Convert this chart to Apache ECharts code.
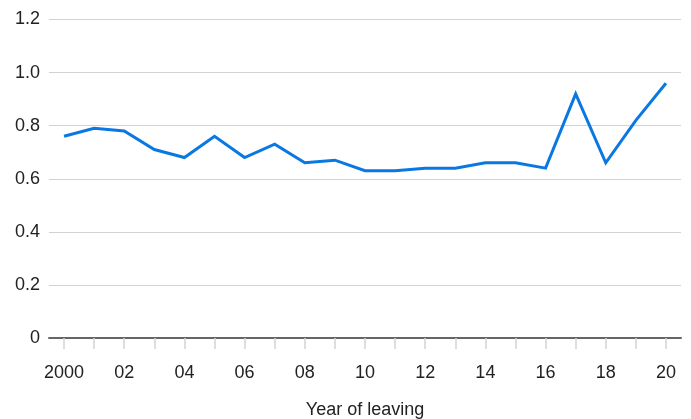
<!DOCTYPE html>
<html>
<head>
<meta charset="utf-8">
<script src="https://cdn.jsdelivr.net/npm/echarts@6/dist/echarts.min.js"></script>
<style>
  html, body { margin: 0; padding: 0; background: #fff; }
  #chart { width: 691px; height: 419px; }
</style>
</head>
<body>
<div id="chart"></div>
<script>
// Years of leaving, 2000–2020
const years = ['2000', '2001', '2002', '2003', '2004', '2005', '2006', '2007', '2008', '2009',
               '2010', '2011', '2012', '2013', '2014', '2015', '2016', '2017', '2018', '2019', '2020'];
// Short tick labels shown under every second year
const yearLabels = ['2000', '', '02', '', '04', '', '06', '', '08', '',
                    '10', '', '12', '', '14', '', '16', '', '18', '', '20'];
const values = [0.76, 0.79, 0.78, 0.71, 0.68, 0.76, 0.68, 0.73, 0.66, 0.67,
                0.63, 0.63, 0.64, 0.64, 0.66, 0.66, 0.64, 0.92, 0.66, 0.82, 0.96];

const font = '"Liberation Sans", Arial, Helvetica, sans-serif';
const chart = echarts.init(document.getElementById('chart'), null, { renderer: 'canvas' });

chart.setOption({
  animation: false,
  backgroundColor: '#ffffff',
  grid: { left: 49, right: 10, top: 19.5, bottom: 81, containLabel: false, outerBoundsMode: 'none' },
  xAxis: {
    type: 'category',
    data: years,
    boundaryGap: true,
    name: 'Year of leaving',
    nameLocation: 'middle',
    nameGap: 63,
    nameTextStyle: { fontFamily: font, fontSize: 18, color: '#222' },
    axisLine: { lineStyle: { color: '#666', width: 2 } },
    axisTick: { show: true, alignWithLabel: true, interval: 0, length: 11,
                lineStyle: { color: '#d4d4d4', width: 1.5 } },
    axisLabel: {
      interval: 0,
      margin: 26,
      fontFamily: font, fontSize: 18, color: '#222',
      formatter: (v, i) => yearLabels[i]
    },
    splitLine: { show: false }
  },
  yAxis: {
    type: 'value',
    min: 0,
    max: 1.2,
    interval: 0.2,
    axisLine: { show: false },
    axisTick: { show: false },
    axisLabel: {
      margin: 9,
      fontFamily: font, fontSize: 18, color: '#222',
      formatter: v => (v === 0 ? '0' : v.toFixed(1))
    },
    splitLine: { lineStyle: { color: '#d2d2d2', width: 1.2 } }
  },
  series: [{
    type: 'line',
    data: values,
    symbol: 'none',
    lineStyle: { color: '#0a78e2', width: 3, join: 'miter' },
    itemStyle: { color: '#0a78e2' }
  }]
});
</script>
</body>
</html>
